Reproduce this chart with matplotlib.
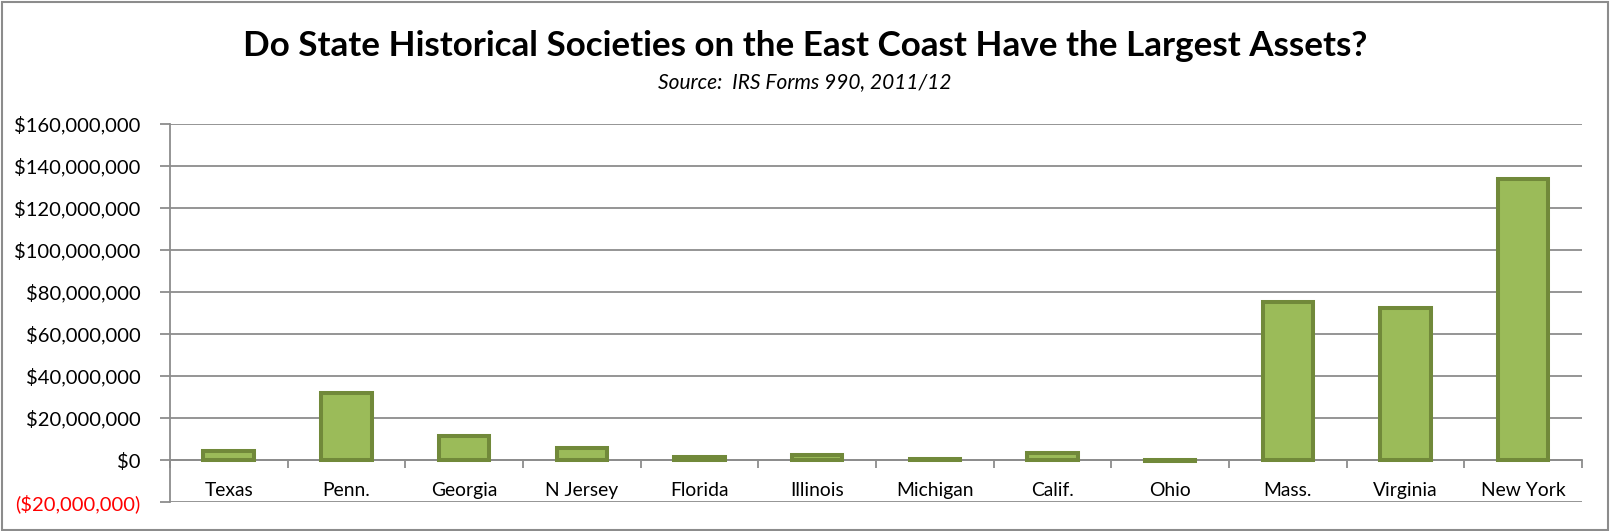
import matplotlib
matplotlib.use("Agg")
import matplotlib.pyplot as plt
from matplotlib.patches import Rectangle
import numpy as np

categories = ["Texas", "Penn.", "Georgia", "N Jersey", "Florida", "Illinois",
              "Michigan", "Calif.", "Ohio", "Mass.", "Virginia", "New York"]
assets = [4.5e6, 32e6, 11.5e6, 5.5e6, 1.2e6, 2.5e6,
          0.7e6, 3.3e6, -0.4e6, 75e6, 72.5e6, 134e6]
yticks = [-20e6, 0, 20e6, 40e6, 60e6, 80e6, 100e6, 120e6, 140e6, 160e6]
title = "Do State Historical Societies on the East Coast Have the Largest Assets?"
subtitle = "Source:  IRS Forms 990, 2011/12"

plt.rcParams['font.family'] = ['Lato', 'DejaVu Sans']

fig = plt.figure(figsize=(16.11, 5.31), dpi=100)
fig.patches.append(Rectangle((0.001, 0.002), 0.997, 0.995, transform=fig.transFigure,
                             fill=False, edgecolor='#8c8c8c', linewidth=1.5))
ax = fig.add_axes([0.1055, 0.0546, 0.982 - 0.1055, 0.7665 - 0.0546])

x = np.arange(len(categories))
ax.bar(x, assets, width=0.43, color='#9BBB59', edgecolor='#71893A', linewidth=2.9, zorder=3)

ax.set_xlim(-0.5, len(categories) - 0.5)
ax.set_ylim(-20e6, 160e6)
ax.set_yticks(yticks)

def fmt(v):
    if v < 0:
        return "(${:,.0f})".format(-v)
    return "${:,.0f}".format(v)

ax.set_yticklabels([fmt(v) for v in yticks], fontsize=14.5)
for lab, v in zip(ax.get_yticklabels(), yticks):
    if v < 0:
        lab.set_color('#ff0000')
ax.yaxis.grid(True, color='#8c8c8c', linewidth=1.3, zorder=0)
ax.set_axisbelow(True)
ax.tick_params(axis='y', length=7, color='#8c8c8c', width=1.3, pad=14, labelsize=14.5)

for s in ['top', 'right']:
    ax.spines[s].set_visible(False)
ax.spines['left'].set_color('#8c8c8c')
ax.spines['left'].set_linewidth(1.3)
ax.spines['bottom'].set_position(('data', 0))
ax.spines['bottom'].set_color('#8c8c8c')
ax.spines['bottom'].set_linewidth(1.3)

ax.set_xticks(np.arange(len(categories) + 1) - 0.5)
ax.set_xticklabels([])
ax.tick_params(axis='x', which='major', direction='out', length=6, color='#8c8c8c', width=1.3)
ax.set_xticks(x, minor=True)
ax.set_xticklabels(categories, minor=True, fontsize=13.9)
ax.tick_params(axis='x', which='minor', length=0, pad=16, labelsize=13.9)

fig.text(0.4995, 0.913, title, ha='center', va='center', fontsize=25.2, fontweight='bold')
fig.text(0.4995, 0.845, subtitle, ha='center', va='center', fontsize=15, style='italic')

fig.savefig("out.png", dpi=100)
